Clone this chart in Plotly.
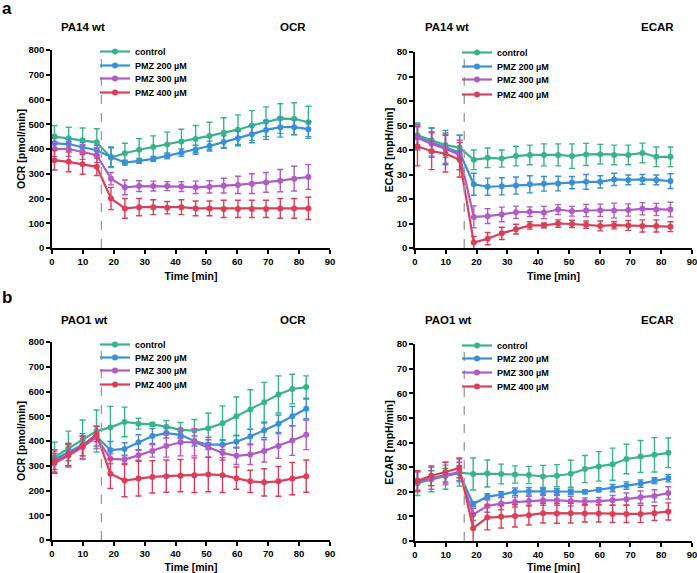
import plotly.graph_objects as go

# ---------------- data ----------------
series_names = ["control", "PMZ 200 µM", "PMZ 300 µM", "PMZ 400 µM"]
series_colors = ["#3BB38A", "#3A8FD6", "#B05CC4", "#D8405A"]

time_a = [0.8, 5.4, 9.9, 14.5, 19.1, 23.6, 28.2, 32.8, 37.3, 41.9, 46.5, 51.0, 55.6, 60.2, 64.7, 69.3, 73.9, 78.4, 83.0]
time_b = [0.8, 5.3, 9.9, 14.4, 18.9, 23.5, 28.0, 32.5, 37.0, 41.6, 46.1, 50.6, 55.2, 59.7, 64.2, 68.7, 73.3, 77.8, 82.3]

# PA14 wt OCR
ocr_a_control = [450, 443, 435, 427, 365, 383, 397, 408, 418, 430, 440, 453, 466, 478, 495, 510, 523, 522, 508]
ocr_a_p200 = [423, 420, 407, 395, 368, 345, 352, 360, 372, 385, 397, 412, 428, 443, 460, 477, 488, 488, 480]
ocr_a_p300 = [400, 400, 388, 375, 280, 245, 250, 250, 250, 248, 245, 247, 252, 255, 260, 265, 272, 280, 287]
ocr_a_p400 = [355, 348, 338, 328, 200, 160, 165, 165, 163, 165, 160, 160, 158, 158, 158, 158, 160, 160, 160]
ocr_a_control_err = [45, 45, 50, 55, 40, 40, 45, 45, 50, 50, 55, 55, 60, 60, 60, 60, 60, 65, 65]
ocr_a_p200_err = [20, 20, 20, 20, 40, 10, 10, 10, 12, 15, 18, 20, 25, 30, 35, 38, 40, 30, 30]
ocr_a_p300_err = [30, 30, 30, 30, 25, 30, 22, 20, 18, 20, 25, 25, 30, 35, 40, 40, 45, 50, 50]
ocr_a_p400_err = [40, 40, 40, 35, 45, 40, 35, 30, 25, 30, 30, 30, 35, 35, 35, 35, 40, 40, 45]

# PA14 wt ECAR
ecar_a_control = [46, 44, 42, 41, 36, 36.8, 36.5, 37.5, 38, 38, 38, 37.5, 38.2, 38.3, 38, 38, 38.8, 37.2, 37.2]
ecar_a_p200 = [45.5, 43, 41, 39, 26, 25, 25.2, 25.5, 26, 26.2, 26.3, 26.7, 27, 27, 28, 27.8, 28, 27.8, 27.3]
ecar_a_p300 = [45, 42.5, 40.5, 38, 12.7, 13, 13.7, 14.6, 14.8, 14.5, 15.7, 15, 15.3, 15.4, 15.3, 15.5, 16, 15.7, 15.7]
ecar_a_p400 = [41.5, 39.5, 38.5, 36, 2.2, 3.8, 6, 7.7, 9.2, 9.2, 10, 9.8, 9.5, 9, 9.3, 9.2, 9, 9, 8.7]
ecar_a_control_err = [5, 5, 5, 5, 4, 4, 3.5, 4, 4, 4.5, 4.5, 5, 4.5, 4, 4, 4, 4, 4, 4]
ecar_a_p200_err = [5, 6, 7, 7, 4.5, 3.5, 3.5, 3.5, 3.5, 3, 3, 2.5, 3, 2.5, 2.5, 2, 2, 2, 3]
ecar_a_p300_err = [5, 5, 6, 6, 4.5, 3, 3, 2.5, 2, 2.5, 2, 2, 2.5, 2.5, 3, 2.5, 2.5, 2.5, 3]
ecar_a_p400_err = [8, 7.5, 7.5, 7, 2.5, 2.5, 2.5, 2, 1.5, 1, 1.5, 1.5, 1.5, 2, 1.5, 2, 2.5, 2.5, 2]

# PAO1 wt OCR
ocr_b_control = [335, 370, 405, 440, 455, 477, 470, 467, 458, 445, 442, 452, 472, 500, 527, 557, 588, 610, 618]
ocr_b_p200 = [325, 355, 385, 420, 363, 368, 395, 420, 432, 425, 400, 385, 385, 397, 418, 443, 470, 500, 530]
ocr_b_p300 = [310, 340, 375, 415, 328, 325, 342, 360, 380, 395, 395, 375, 352, 340, 345, 360, 380, 402, 425]
ocr_b_p400 = [315, 345, 380, 428, 268, 240, 248, 255, 258, 260, 262, 265, 262, 250, 237, 233, 237, 248, 258]
ocr_b_control_err = [60, 70, 80, 85, 85, 60, 22, 8, 25, 30, 45, 60, 70, 78, 80, 80, 75, 60, 45]
ocr_b_p200_err = [40, 35, 45, 40, 35, 25, 30, 30, 20, 15, 20, 20, 20, 25, 30, 30, 35, 40, 40]
ocr_b_p300_err = [40, 45, 45, 45, 20, 15, 20, 25, 45, 55, 55, 40, 30, 35, 40, 45, 50, 60, 60]
ocr_b_p400_err = [45, 45, 40, 30, 60, 65, 70, 65, 65, 65, 70, 70, 70, 45, 45, 55, 60, 65, 65]

# PAO1 wt ECAR
ecar_b_control = [23.5, 25, 26.5, 27.8, 27.2, 27.4, 27.2, 27, 26.8, 26.2, 26.5, 27.3, 29.2, 30.3, 31.2, 33.3, 34.3, 35, 35.8]
ecar_b_p200 = [24.5, 25.5, 26.5, 27.5, 15, 18, 18.8, 20, 20.2, 20.2, 20, 20, 20, 20.8, 21.5, 22.5, 23.3, 24.5, 25.5]
ecar_b_p300 = [24, 25.5, 26.8, 28, 10.8, 14.2, 15.2, 15.8, 16.2, 16.5, 16.5, 16.2, 16, 16.2, 16.5, 17, 17.8, 18.3, 19.5]
ecar_b_p400 = [24.5, 26.5, 28, 29.7, 5.2, 9.5, 9.8, 10.2, 10.5, 11.3, 11.2, 11.3, 11.2, 11.2, 11, 11, 11, 11.3, 12]
ecar_b_control_err = [5, 5, 5.5, 5.5, 6.5, 5.5, 4, 3.5, 3.5, 4.5, 4.5, 5.5, 5.5, 6, 6.5, 6, 6.5, 7, 6]
ecar_b_p200_err = [4, 3, 3, 3, 1, 1.2, 1.2, 1.5, 1.5, 1.2, 1.2, 1, 0.8, 0.8, 1.5, 1.5, 1.5, 1.2, 1.5]
ecar_b_p300_err = [4, 4.5, 4, 4, 2.5, 2.5, 2.5, 2, 2, 2, 2, 2, 1.5, 1.5, 2, 2.5, 2.5, 2.5, 2.5]
ecar_b_p400_err = [4, 4, 4, 4, 6, 5, 4.5, 4.5, 4, 4, 4, 4, 3.5, 3.5, 3.5, 3.5, 3.5, 3, 3.5]

injection_time = 16

# ---------------- figure ----------------
W, H = 697, 573
FONT = "Liberation Sans"

panels = [
    dict(t=time_a, ys=[ocr_a_control, ocr_a_p200, ocr_a_p300, ocr_a_p400],
         es=[ocr_a_control_err, ocr_a_p200_err, ocr_a_p300_err, ocr_a_p400_err],
         xd=[52 / W, 330 / W], yd=[(H - 248) / H, (H - 50) / H],
         yr=[0, 800], dt=100, ytitle="OCR [pmol/min]", leg=(95, [53, 67, 80, 94])),
    dict(t=time_a, ys=[ecar_a_control, ecar_a_p200, ecar_a_p300, ecar_a_p400],
         es=[ecar_a_control_err, ecar_a_p200_err, ecar_a_p300_err, ecar_a_p400_err],
         xd=[415 / W, 692 / W], yd=[(H - 248) / H, (H - 52) / H],
         yr=[0, 80], dt=10, ytitle="ECAR [mpH/min]", leg=(457, [54, 68, 81, 96])),
    dict(t=time_b, ys=[ocr_b_control, ocr_b_p200, ocr_b_p300, ocr_b_p400],
         es=[ocr_b_control_err, ocr_b_p200_err, ocr_b_p300_err, ocr_b_p400_err],
         xd=[52 / W, 330 / W], yd=[(H - 540) / H, (H - 342) / H],
         yr=[0, 800], dt=100, ytitle="OCR [pmol/min]", leg=(95, [346, 359, 372, 386])),
    dict(t=time_b, ys=[ecar_b_control, ecar_b_p200, ecar_b_p300, ecar_b_p400],
         es=[ecar_b_control_err, ecar_b_p200_err, ecar_b_p300_err, ecar_b_p400_err],
         xd=[415 / W, 692 / W], yd=[(H - 541) / H, (H - 344) / H],
         yr=[0, 80], dt=10, ytitle="ECAR [mpH/min]", leg=(457, [347, 360, 374, 388])),
]

LEG_OFFSET = 16  # approx. distance from legend box top to first item centre

fig = go.Figure()
layout = dict(
    width=W, height=H, margin=dict(l=0, r=0, t=0, b=0, autoexpand=False),
    paper_bgcolor="white", plot_bgcolor="white", showlegend=True,
    font=dict(family=FONT, color="black"),
    shapes=[], annotations=[],
)

leg_idx = 0
for i, p in enumerate(panels):
    n = i + 1
    xa = "x" if n == 1 else f"x{n}"
    ya = "y" if n == 1 else f"y{n}"
    for k, (name, col, y, e) in enumerate(zip(series_names, series_colors, p["ys"], p["es"])):
        leg_idx += 1
        lg = "legend" if leg_idx == 1 else f"legend{leg_idx}"
        fig.add_trace(go.Scatter(
            x=p["t"], y=y, name=name, mode="lines+markers",
            line=dict(color=col, width=2.2),
            marker=dict(color=col, size=6),
            error_y=dict(type="data", array=e, color=col, thickness=1.4, width=3),
            xaxis=xa, yaxis=ya, legend=lg, cliponaxis=False, showlegend=True,
        ))
        layout[lg] = dict(x=p["leg"][0] / W, y=(H - p["leg"][1][k] + LEG_OFFSET) / H,
                          xanchor="left", yanchor="top", bgcolor="rgba(0,0,0,0)",
                          font=dict(size=9, weight="bold", family=FONT), visible=True)
    axcommon = dict(showline=True, linecolor="black", linewidth=1.5, ticks="outside",
                    ticklen=4, tickwidth=1.5, tickcolor="black", showgrid=False,
                    zeroline=False, automargin=False, ticklabeloverflow="allow",
                    tickfont=dict(size=9.5, weight="bold", family=FONT))
    layout["xaxis" if n == 1 else f"xaxis{n}"] = dict(
        axcommon, domain=p["xd"], range=[0, 90], dtick=10, anchor=ya,
        title=dict(text="Time [min]", font=dict(size=10.5, weight="bold"), standoff=6))
    layout["yaxis" if n == 1 else f"yaxis{n}"] = dict(
        axcommon, domain=p["yd"], range=p["yr"], dtick=p["dt"], anchor=xa,
        title=dict(text=p["ytitle"], font=dict(size=10.5, weight="bold"), standoff=1))
    layout["shapes"].append(dict(type="line", xref=xa, yref=f"{ya} domain",
                                 x0=injection_time, x1=injection_time, y0=0, y1=1,
                                 line=dict(color="#999999", width=1.3, dash="dash")))

def ann(text, x, y, size, anchor="left"):
    layout["annotations"].append(dict(text=f"<b>{text}</b>", x=x / W, y=(H - y) / H,
                                      xref="paper", yref="paper", showarrow=False,
                                      xanchor=anchor, yanchor="middle",
                                      font=dict(size=size, family=FONT)))

ann("a", 0, 9, 17)
ann("b", 0, 298, 17)
ann("PA14 wt", 59, 27, 11.5)
ann("OCR", 308, 27, 11.5, "right")
ann("PA14 wt", 423, 27, 11.5)
ann("ECAR", 676, 27, 11.5, "right")
ann("PAO1 wt", 59, 320, 11.5)
ann("OCR", 308, 320, 11.5, "right")
ann("PAO1 wt", 423, 320, 11.5)
ann("ECAR", 676, 320, 11.5, "right")

fig.update_layout(**layout)
fig.write_html(
    "out.html",
    config={"displayModeBar": False},
    post_script="document.body.style.margin='0';document.body.style.overflow='hidden';",
)
